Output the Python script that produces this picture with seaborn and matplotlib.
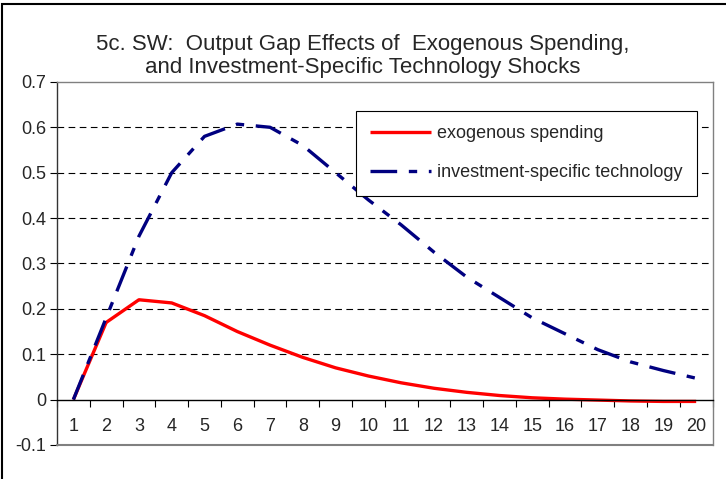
import numpy as np
import pandas as pd
import matplotlib.pyplot as plt
import seaborn as sns
from matplotlib.ticker import FixedLocator, FuncFormatter
from matplotlib.patches import Rectangle

periods = list(range(1, 21))
exog_spending = [0.0, 0.17, 0.22, 0.213, 0.185, 0.15, 0.12, 0.093, 0.07, 0.052,
                 0.037, 0.025, 0.016, 0.009, 0.004, 0.001, -0.001, -0.003, -0.004, -0.004]
invest_tech = [0.0, 0.18, 0.36, 0.50, 0.58, 0.607, 0.60, 0.56, 0.50, 0.44,
               0.385, 0.325, 0.27, 0.225, 0.18, 0.145, 0.11, 0.083, 0.064, 0.047]

df = pd.DataFrame({
    "period": periods * 2,
    "value": exog_spending + invest_tech,
    "series": ["exogenous spending"] * 20 + ["investment-specific technology"] * 20,
})

sns.set_style("white")
plt.rcParams["font.family"] = ["Liberation Sans", "DejaVu Sans"]

fig = plt.figure(figsize=(7.26, 4.79), dpi=100)
ax = fig.add_axes([0.0785, 0.071, 0.903, 0.758])

sns.lineplot(data=df, x="period", y="value", hue="series", style="series",
             palette=["#ff0000", "#000080"],
             dashes=[(1, 0), (8, 3.5, 2.5, 3.5)],
             linewidth=2.4, ax=ax, legend=True)

ax.set_xlim(0.5, 20.5)
ax.set_ylim(-0.1, 0.7)
ax.set_xlabel("")
ax.set_ylabel("")

# gridlines
for yv in np.arange(0.1, 0.65, 0.1):
    ax.axhline(yv, color="black", lw=0.8, ls=(0, (6, 4)), zorder=0)

# y axis
ax.set_yticks(np.round(np.arange(-0.1, 0.75, 0.1), 1))
ax.yaxis.set_major_formatter(FuncFormatter(lambda v, p: "0" if abs(v) < 1e-9 else f"{v:.1f}"))
ax.tick_params(axis="y", direction="out", length=5, width=0.8, color="black",
               labelsize=13, pad=3, left=True)

# x axis at zero
ax.spines["bottom"].set_position(("data", 0))
ax.spines["bottom"].set_color("black")
ax.spines["bottom"].set_linewidth(1.0)
ax.xaxis.set_major_locator(FixedLocator(np.arange(0.5, 21, 1)))
ax.xaxis.set_minor_locator(FixedLocator(periods))
ax.xaxis.set_major_formatter(FuncFormatter(lambda v, p: ""))
ax.xaxis.set_minor_formatter(FuncFormatter(lambda v, p: f"{int(round(v))}"))
ax.tick_params(axis="x", which="major", direction="out", length=5, width=0.8,
               color="black", bottom=True)
ax.tick_params(axis="x", which="minor", length=0, labelsize=13, pad=13, bottom=True)

ax.spines["left"].set_color("#333333")
ax.spines["left"].set_linewidth(1.0)
for s in ["top", "right"]:
    ax.spines[s].set_color("#808080")
    ax.spines[s].set_linewidth(1.0)
ax.axhline(-0.1, color="#808080", lw=1.5, clip_on=False, zorder=3)

leg = ax.legend(loc="upper right", bbox_to_anchor=(0.976, 0.92), frameon=True,
                fancybox=False, framealpha=1, edgecolor="black", fontsize=13,
                handlelength=3.4, handletextpad=0.3, labelspacing=1.2,
                borderpad=0.8, borderaxespad=0)
leg.get_frame().set_linewidth(0.8)

fig.text(0.5, 0.883, "5c. SW:  Output Gap Effects of  Exogenous Spending,\n"
         "and Investment-Specific Technology Shocks",
         ha="center", va="center", fontsize=16, linespacing=1.08)

fig.patches.append(Rectangle((0.003, -0.01), 1.5, 1 - 4 / 479 + 0.01 - 0.0,
                             transform=fig.transFigure, fill=False,
                             edgecolor="black", lw=1.5))

fig.savefig("out.png", dpi=100)
